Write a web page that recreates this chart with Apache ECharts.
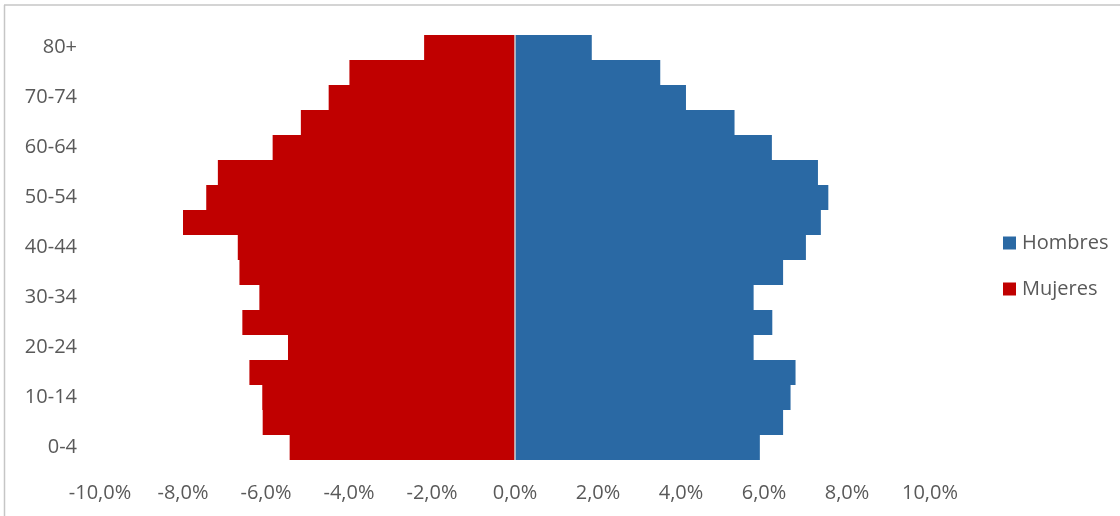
<!DOCTYPE html>
<html>
<head>
<meta charset="utf-8">
<script src="https://cdn.jsdelivr.net/npm/echarts@6/dist/echarts.min.js"></script>
<style>
html,body{margin:0;padding:0;background:#fff;}
#chart{width:1120px;height:516px;}
</style>
</head>
<body>
<div id="chart"></div>
<script>
const categories = ['0-4','5-9','10-14','15-19','20-24','25-29','30-34','35-39','40-44','45-49','50-54','55-59','60-64','65-69','70-74','75-79','80+'];
const hombres = [5.90, 6.46, 6.64, 6.76, 5.75, 6.20, 5.75, 6.46, 7.01, 7.37, 7.55, 7.30, 6.19, 5.29, 4.12, 3.50, 1.85];
const mujeres = [-5.43, -6.08, -6.09, -6.40, -5.47, -6.57, -6.16, -6.64, -6.68, -8.00, -7.44, -7.16, -5.84, -5.16, -4.49, -3.99, -2.19];
const xTicks = [-10, -8, -6, -4, -2, 0, 2, 4, 6, 8, 10];

const FONT = '"Open Sans", sans-serif';
const chart = echarts.init(document.getElementById('chart'));
chart.setOption({
  animation: false,
  backgroundColor: '#fff',
  textStyle: { fontFamily: FONT },
  grid: { left: 100, right: 190, top: 35, bottom: 56, containLabel: false },
  legend: {
    orient: 'vertical',
    left: 1003,
    top: 233,
    padding: 0,
    itemWidth: 13,
    itemHeight: 13,
    itemGap: 26,
    icon: 'rect',
    textStyle: { fontFamily: FONT, fontSize: 20, color: '#595959', lineHeight: 20, padding: [0, 0, 0, 1] },
    data: ['Hombres', 'Mujeres']
  },
  xAxis: {
    type: 'value',
    min: xTicks[0],
    max: xTicks[xTicks.length - 1],
    interval: 2,
    axisLine: { show: false },
    axisTick: { show: false },
    splitLine: { show: false },
    axisLabel: {
      fontFamily: FONT, fontSize: 20, color: '#595959', margin: 23,
      formatter: v => v.toFixed(1).replace('.', ',') + '%'
    }
  },
  yAxis: {
    type: 'category',
    data: categories,
    axisLine: { show: false },
    axisTick: { show: false },
    axisLabel: { interval: 1, fontFamily: FONT, fontSize: 20, color: '#595959', margin: 23 }
  },
  series: [
    {
      name: 'Hombres', type: 'bar', data: hombres,
      barGap: '-100%', barCategoryGap: 0,
      itemStyle: { color: '#2A69A4' },
      markLine: {
        silent: true, symbol: 'none', label: { show: false },
        lineStyle: { color: '#d0d0d0', width: 1.5, type: 'solid' },
        data: [{ xAxis: 0 }]
      }
    },
    {
      name: 'Mujeres', type: 'bar', data: mujeres,
      barGap: '-100%', barCategoryGap: 0,
      itemStyle: { color: '#C00000' }
    }
  ],
  graphic: [
    { type: 'line', shape: { x1: 4, y1: 5, x2: 1120, y2: 5 }, style: { stroke: '#c6c6c6', lineWidth: 1.5 } },
    { type: 'line', shape: { x1: 4.5, y1: 5, x2: 4.5, y2: 516 }, style: { stroke: '#c6c6c6', lineWidth: 1.5 } }
  ]
});
</script>
</body>
</html>
